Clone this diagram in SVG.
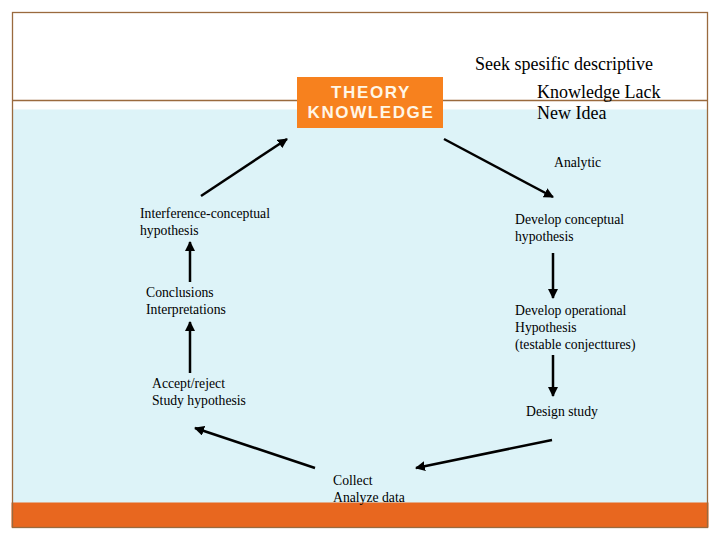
<svg xmlns="http://www.w3.org/2000/svg" width="720" height="540" viewBox="0 0 720 540">
<defs>
<style>
.t{font-family:"Liberation Serif","Times New Roman",serif;font-size:13.7px;fill:#000}
.tl{font-family:"Liberation Serif","Times New Roman",serif;font-size:18px;fill:#000}
.h{font-family:"Liberation Sans",Arial,sans-serif;font-size:17px;font-weight:bold;fill:#FFF6E6;letter-spacing:1.6px}
.c{stroke:#000;stroke-width:2.5;fill:none;marker-end:url(#ah)}
</style>
<marker id="ah" viewBox="0 0 10 10" refX="9" refY="5" markerWidth="4" markerHeight="4" orient="auto" markerUnits="strokeWidth">
<path d="M0,0 L10,5 L0,10 z" fill="#000"/>
</marker>
</defs>
<rect x="0" y="0" width="720" height="540" fill="#fff"/>
<rect x="12" y="109.5" width="696" height="394" fill="#DDF3F8"/>
<rect x="11.5" y="502.5" width="697" height="25" fill="#E8671F"/>
<rect x="12.5" y="12.5" width="695" height="515" fill="none" stroke="#9A6A3E" stroke-width="1.3"/>
<line x1="12" y1="100.5" x2="708" y2="100.5" stroke="#9A6A3E" stroke-width="1.3"/>

<g id="theory">
<rect x="297" y="77" width="146" height="51" fill="#F7811E"/>
<text class="h" x="371" y="97.5" text-anchor="middle">THEORY</text>
<text class="h" x="371" y="117.5" text-anchor="middle">KNOWLEDGE</text>
</g>
<g id="seek">
<text class="tl" x="475" y="70">Seek spesific descriptive</text>
<text class="tl" x="537" y="98">Knowledge Lack</text>
<text class="tl" x="537" y="119">New Idea</text>
</g>
<g id="analytic"><text class="t" x="554" y="167">Analytic</text></g>
<g id="dev-conceptual">
<text class="t" x="515" y="224">Develop conceptual</text>
<text class="t" x="515" y="241">hypothesis</text>
</g>
<g id="dev-operational">
<text class="t" x="515" y="315">Develop operational</text>
<text class="t" x="515" y="332">Hypothesis</text>
<text class="t" x="515" y="349">(testable conjecttures)</text>
</g>
<g id="design"><text class="t" x="526" y="416">Design study</text></g>
<g id="collect">
<text class="t" x="333" y="485">Collect</text>
<text class="t" x="333" y="502">Analyze data</text>
</g>
<g id="accept">
<text class="t" x="152" y="388">Accept/reject</text>
<text class="t" x="152" y="405">Study hypothesis</text>
</g>
<g id="conclusions">
<text class="t" x="146" y="297">Conclusions</text>
<text class="t" x="146" y="314">Interpretations</text>
</g>
<g id="interference">
<text class="t" x="140" y="218">Interference-conceptual</text>
<text class="t" x="140" y="235">hypothesis</text>
</g>

<g id="connectors">
<line class="c" x1="444" y1="139" x2="553" y2="197"/>
<line class="c" x1="553" y1="253" x2="553" y2="298"/>
<line class="c" x1="553" y1="355" x2="553" y2="396"/>
<line class="c" x1="552" y1="440" x2="416" y2="468"/>
<line class="c" x1="315" y1="468" x2="195" y2="428"/>
<line class="c" x1="190" y1="373" x2="190" y2="322"/>
<line class="c" x1="190" y1="282" x2="190" y2="242"/>
<line class="c" x1="201" y1="196" x2="287" y2="139"/>
</g>
</svg>
